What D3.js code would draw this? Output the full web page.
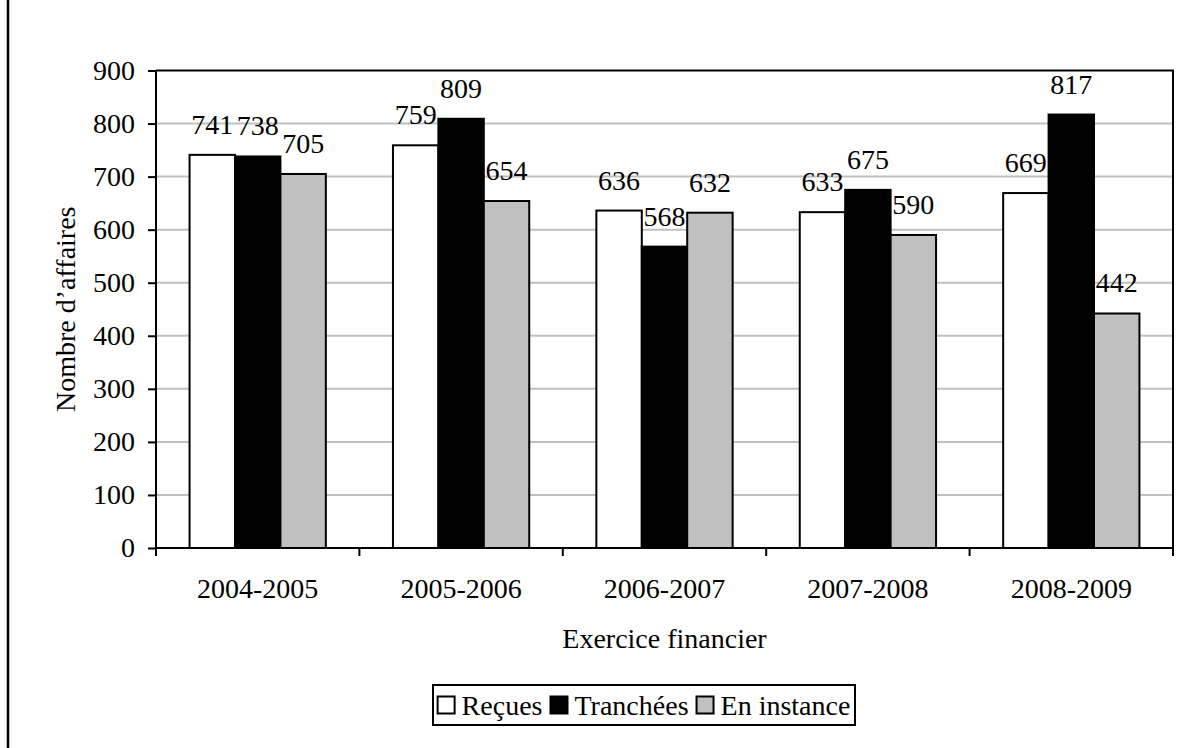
<!DOCTYPE html>
<html>
<head>
<meta charset="utf-8">
<script src="https://cdn.jsdelivr.net/npm/d3@7"></script>
<style>
  html, body { margin: 0; padding: 0; background: #fff; }
  svg { display: block; }
  text { font-family: "Liberation Serif", "Times New Roman", serif; fill: #000; }
</style>
</head>
<body>
<svg id="chart" width="1194" height="748" font-family="Liberation Serif, Times New Roman, serif"></svg>
<script>
// Exercices financiers and counts of cases
const categories = ["2004-2005", "2005-2006", "2006-2007", "2007-2008", "2008-2009"];
const seriesNames = ["Reçues", "Tranchées", "En instance"];
const recues = [741, 759, 636, 633, 669];
const tranchees = [738, 809, 568, 675, 817];
const enInstance = [705, 654, 632, 590, 442];
const yTicks = [0, 100, 200, 300, 400, 500, 600, 700, 800, 900];
const fills = ["#ffffff", "#000000", "#c0c0c0"];

const values = [recues, tranchees, enInstance];

const svg = d3.select("#chart");
const W = 1194, H = 748;
const plot = { left: 156, right: 1173, top: 70.5, bottom: 548 };
const FS = 28;
const SERIF = "Liberation Serif, Times New Roman, serif";

// outer frame line on the left
svg.append("line")
  .attr("x1", 8).attr("x2", 8).attr("y1", 0).attr("y2", H)
  .attr("stroke", "#000").attr("stroke-width", 2.5);

const x0 = d3.scaleBand().domain(categories).range([plot.left, plot.right]).padding(0);
// bars occupy the central part of each group
const groupPad = 0.165;
const inner = d3.scaleBand().domain(seriesNames)
  .range([x0.bandwidth() * groupPad, x0.bandwidth() * (1 - groupPad)]).padding(0);

const y = d3.scaleLinear().domain([0, 900]).range([plot.bottom, plot.top]);

// gridlines
svg.append("g").selectAll("line")
  .data(yTicks.filter(t => t > 0 && t < 900))
  .join("line")
  .attr("x1", plot.left).attr("x2", plot.right)
  .attr("y1", d => y(d)).attr("y2", d => y(d))
  .attr("stroke", "#c0c0c0").attr("stroke-width", 2);

// plot area border (top and right)
svg.append("path")
  .attr("d", `M${plot.left},${y(900)}H${plot.right}V${plot.bottom}`)
  .attr("fill", "none").attr("stroke", "#000").attr("stroke-width", 2);

// bars
const groups = svg.append("g").selectAll("g")
  .data(categories)
  .join("g")
  .attr("transform", d => `translate(${x0(d)},0)`);

const cells = (c, i) => seriesNames.map((s, j) => ({ s, j, v: values[j][i] }));

groups.selectAll("rect")
  .data(cells)
  .join("rect")
  .attr("x", d => inner(d.s))
  .attr("width", inner.bandwidth())
  .attr("y", d => y(d.v))
  .attr("height", d => y(0) - y(d.v))
  .attr("fill", d => fills[d.j])
  .attr("stroke", "#000").attr("stroke-width", 2);

// value labels
groups.selectAll("text")
  .data(cells)
  .join("text")
  .attr("x", d => inner(d.s) + inner.bandwidth() / 2)
  .attr("y", d => y(d.v) - 21)
  .attr("text-anchor", "middle")
  .attr("font-size", FS)
  .text(d => d.v);

// y axis
const yAxis = d3.axisLeft(y).tickValues(yTicks).tickSize(8).tickPadding(13).tickFormat(d3.format("d"));
const gy = svg.append("g").attr("transform", `translate(${plot.left},0)`).call(yAxis)
  .attr("font-family", SERIF);
gy.select(".domain").attr("stroke", "#000").attr("stroke-width", 2).attr("d", `M0,${plot.top}V${plot.bottom + 8}`);
gy.selectAll(".tick line").attr("stroke", "#000").attr("stroke-width", 2);
gy.selectAll(".tick text").attr("font-size", FS).attr("fill", "#000");

// x axis: ticks at the group boundaries
svg.append("line")
  .attr("x1", plot.left).attr("x2", plot.right)
  .attr("y1", plot.bottom).attr("y2", plot.bottom)
  .attr("stroke", "#000").attr("stroke-width", 2);
const bounds = categories.map(c => x0(c)).concat([plot.right]);
svg.append("g").selectAll("line")
  .data(bounds)
  .join("line")
  .attr("x1", d => d).attr("x2", d => d)
  .attr("y1", plot.bottom).attr("y2", plot.bottom + 8)
  .attr("stroke", "#000").attr("stroke-width", 2);
svg.append("g").selectAll("text")
  .data(categories)
  .join("text")
  .attr("x", d => x0(d) + x0.bandwidth() / 2)
  .attr("y", 598)
  .attr("text-anchor", "middle")
  .attr("font-size", FS)
  .text(d => d);

// axis titles
svg.append("text")
  .attr("x", (plot.left + plot.right) / 2).attr("y", 648)
  .attr("text-anchor", "middle").attr("font-size", FS)
  .text("Exercice financier");
svg.append("text")
  .attr("transform", `translate(75,${(plot.top + plot.bottom) / 2}) rotate(-90)`)
  .attr("text-anchor", "middle").attr("font-size", FS)
  .text("Nombre d’affaires");

// legend
const legend = svg.append("g");
const sw = 17, gapText = 7, gapItem = 8;
let cx = 0;
seriesNames.forEach((s, j) => {
  const g = legend.append("g").attr("transform", `translate(${cx},0)`);
  g.append("rect").attr("x", 0).attr("y", -sw / 2).attr("width", sw).attr("height", sw)
    .attr("fill", fills[j]).attr("stroke", "#000").attr("stroke-width", 2);
  const t = g.append("text").attr("x", sw + gapText).attr("y", 10).attr("font-size", FS).text(s);
  cx += sw + gapText + t.node().getComputedTextLength() + gapItem;
});
const legW = cx - gapItem;
const boxL = 433, boxR = 855, boxT = 685, boxB = 725;
legend.attr("transform", `translate(${(boxL + boxR) / 2 - legW / 2},${(boxT + boxB) / 2})`);
svg.append("rect")
  .attr("x", boxL).attr("y", boxT).attr("width", boxR - boxL).attr("height", boxB - boxT)
  .attr("fill", "none").attr("stroke", "#000").attr("stroke-width", 2);
</script>
</body>
</html>
